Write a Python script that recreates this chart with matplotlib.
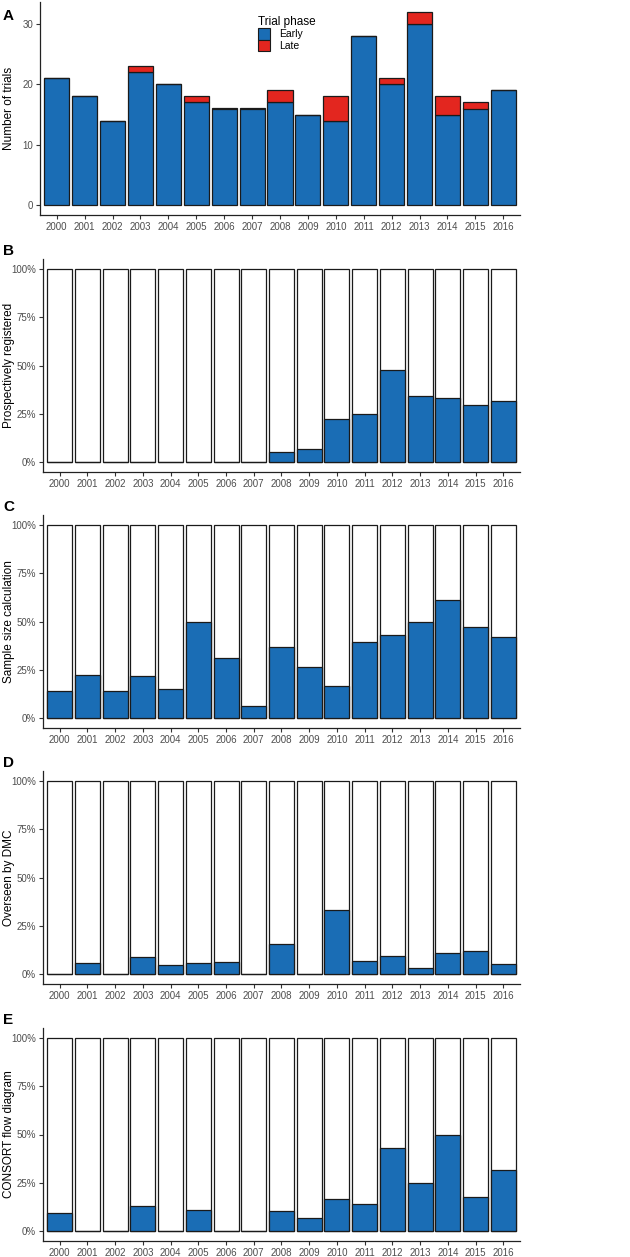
import matplotlib
matplotlib.use("Agg")
import matplotlib.pyplot as plt
from matplotlib.ticker import FuncFormatter
from matplotlib.patches import Patch

plt.rcParams['font.family'] = ['Liberation Sans', 'DejaVu Sans']

years = [str(y) for y in range(2000, 2017)]
early = [21, 18, 14, 22, 20, 17, 16, 16, 17, 15, 14, 28, 20, 30, 15, 16, 19]
late = [0, 0, 0, 1, 0, 1, 0, 0, 2, 0, 4, 0, 1, 2, 3, 1, 0]

# percentages of trials (blue part)
prosp_reg = [0, 0, 0, 0, 0, 0, 0, 0, 5.3, 6.7, 22.2, 25.0, 47.6, 34.4, 33.3, 29.4, 31.6]
sample_size = [14.3, 22.2, 14.3, 21.7, 15.0, 50.0, 31.3, 6.3, 36.8, 26.7, 16.7, 39.3, 42.9, 50.0, 61.1, 47.1, 42.1]
dmc = [0, 5.6, 0, 8.7, 5.0, 5.6, 6.3, 0, 15.8, 0, 33.3, 7.1, 9.5, 3.1, 11.1, 11.8, 5.3]
consort = [9.5, 0, 0, 13.0, 0, 11.1, 0, 0, 10.5, 6.7, 16.7, 14.3, 42.9, 25.0, 50.0, 17.6, 31.6]

BLUE = "#1A6DB5"
RED = "#E3261F"
EDGE = "#1a1a1a"
TICKC = "#4D4D4D"

W, H = 630, 1257
fig = plt.figure(figsize=(W / 100, H / 100), dpi=100)


def add_ax(left, right, top, bottom):
    return fig.add_axes([left / W, 1 - bottom / H, (right - left) / W, (bottom - top) / H])


def style(ax):
    for s in ['top', 'right']:
        ax.spines[s].set_visible(False)
    for s in ['left', 'bottom']:
        ax.spines[s].set_linewidth(0.9)
        ax.spines[s].set_color('#222222')
    ax.tick_params(axis='both', length=3, width=0.8, color='#333333',
                   labelsize=7, labelcolor=TICKC, pad=2)
    ax.set_xlim(-0.6, len(years) - 0.4)
    ax.set_xticks(range(len(years)))
    ax.set_xticklabels(years)


def ylab(text, top, bot):
    fig.text(9.5 / W, 1 - (top + bot) / 2 / H, text, rotation=90, fontsize=8.5,
             ha='center', va='center')


x = list(range(len(years)))

# Panel A
axA = add_ax(40, 520, 2, 215)
axA.bar(x, early, width=0.9, color=BLUE, edgecolor=EDGE, linewidth=0.9, label='Early')
axA.bar(x, late, bottom=early, width=0.9, color=RED, edgecolor=EDGE, linewidth=0.9, label='Late')
style(axA)
tot_max = max(e + l for e, l in zip(early, late))
axA.set_ylim(-0.05 * tot_max, tot_max * 1.05)
axA.set_yticks([0, 10, 20, 30])
ylab('Number of trials', 2, 215)
handles = [Patch(facecolor=BLUE, edgecolor=EDGE, linewidth=0.8, label='Early'),
           Patch(facecolor=RED, edgecolor=EDGE, linewidth=0.8, label='Late')]
leg = fig.legend(handles=handles, title='Trial phase', loc='upper left',
                 bbox_to_anchor=(251 / W, 1 - 9 / H), frameon=False,
                 fontsize=7.5, title_fontsize=8.5, handlelength=1.1, handleheight=1.3,
                 handletextpad=0.9, labelspacing=0.0, borderpad=0.2)
leg._legend_box.align = 'left'
fig.text(3 / W, 1 - 16 / H, 'A', fontsize=11, fontweight='bold', va='center', ha='left')

panels = [
    ('B', prosp_reg, 'Prospectively registered', 259, 472, 251),
    ('C', sample_size, 'Sample size calculation', 515, 728, 507),
    ('D', dmc, 'Overseen by DMC', 771, 984, 763),
    ('E', consort, 'CONSORT flow diagram', 1028, 1241, 1020),
]
for letter, vals, lab, top, bot, ly in panels:
    ax = add_ax(43, 520, top, bot)
    ax.bar(x, [100] * len(x), width=0.9, color='white', edgecolor=EDGE, linewidth=0.9)
    ax.bar(x, vals, width=0.9, color=BLUE, edgecolor=EDGE, linewidth=0.9)
    style(ax)
    ax.set_ylim(-5, 105)
    ax.set_yticks([0, 25, 50, 75, 100])
    ax.yaxis.set_major_formatter(FuncFormatter(lambda v, p: f"{int(v)}%"))
    ylab(lab, top, bot)
    fig.text(3 / W, 1 - ly / H, letter, fontsize=11, fontweight='bold', va='center', ha='left')

fig.savefig('out.png', dpi=100)
